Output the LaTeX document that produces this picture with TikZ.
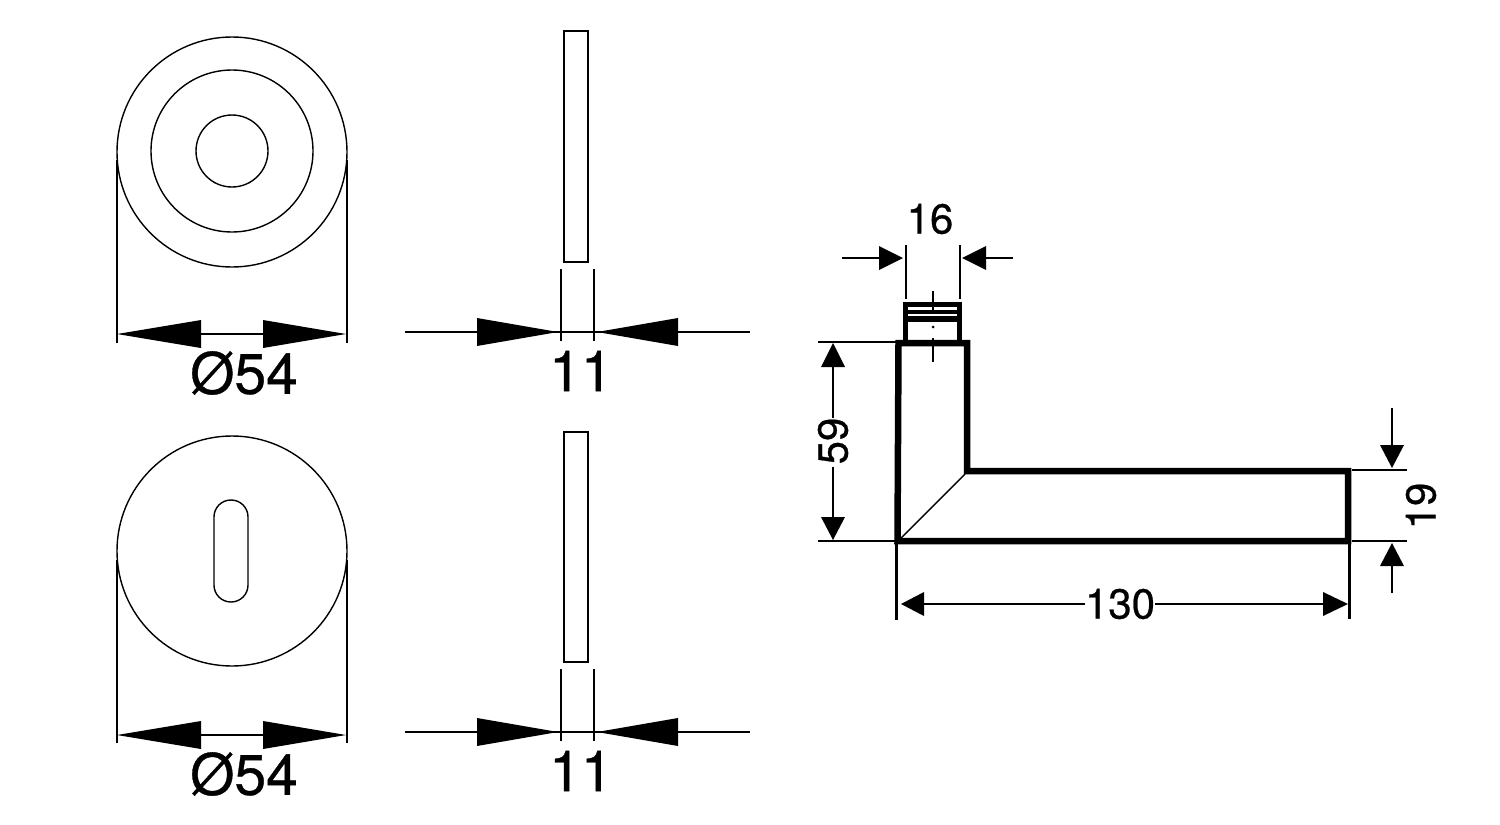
\documentclass[tikz,border=0pt]{standalone}
\usepackage{fontspec}
\setmainfont[FakeBold=0.6]{TeX Gyre Heros}
\newcommand{\arrowhead}[5]{\fill (#1,#2) -- (#3,#4+#5) -- (#3,#4-#5) -- cycle;}
\newcommand{\arrowup}[4]{\fill (#1,#2) -- (#1+#4,#3) -- (#1-#4,#3) -- cycle;}
\tikzset{
  thinline/.style={line width=1.4pt,black},
  midline/.style={line width=2.5pt,black},
  thickline/.style={line width=6.5pt,black,line join=miter},
  bigtext/.style={font=\fontsize{57}{57}\selectfont,inner sep=0pt},
  smalltext/.style={font=\fontsize{42}{42}\selectfont,inner sep=0pt}
}
\begin{document}
\begin{tikzpicture}[x=1pt,y=-1pt]
\useasboundingbox (0,0) rectangle (1500,825);
% top rose
\draw[thinline] (232,152) circle[radius=115];
\draw[thinline] (232,151) circle[radius=81];
\draw[thinline] (232,151) circle[radius=36];
\draw[thinline] (117,160) -- (117,343);
\draw[thinline] (347,160) -- (347,343);
\draw[thinline] (201,334) -- (263,334);
\arrowhead{117}{334}{201}{334}{14}
\arrowhead{346}{334}{263}{334}{14}
\node[bigtext] (d1) at (244,373) {Ø54};
% bottom rose
\draw[thinline] (232,551) circle[radius=115];
\draw[thinline,rounded corners=16.9pt] (214,500) rectangle (248,602);
\draw[thinline] (117,560) -- (117,743);
\draw[thinline] (347,560) -- (347,743);
\draw[thinline] (201,735) -- (263,735);
\arrowhead{117}{735}{201}{735}{14}
\arrowhead{346}{735}{263}{735}{14}
\node[bigtext] (d2) at (244,774) {Ø54};
% top side view
\draw[thinline,line width=1.6pt] (564,31) rectangle (588,262);
\draw[thinline] (561,269) -- (561,341);
\draw[thinline] (594,269) -- (594,341);
\draw[thinline] (405,332) -- (750,332);
\arrowhead{558}{332}{477}{332}{14}
\arrowhead{597}{332}{678}{332}{14}
\node[bigtext] (w1) at (581,371) {11};
% bottom side view
\draw[thinline,line width=1.6pt] (564,432) rectangle (588,662);
\draw[thinline] (561,669) -- (561,741);
\draw[thinline] (594,669) -- (594,741);
\draw[thinline] (405,732) -- (750,732);
\arrowhead{558}{732}{477}{732}{14}
\arrowhead{597}{732}{678}{732}{14}
\node[bigtext] (w2) at (581,771) {11};
% lever handle
\draw[thickline] (898.5,343) -- (967,343) -- (967,471) -- (1348,471) -- (1348,541) -- (897.5,541) -- cycle;
\draw[thinline] (899,540) -- (965,474);
% spindle
\fill (903,302) rectangle (962,307);
\fill (903,309.5) rectangle (962,314);
\fill (903,316) rectangle (962,322);
\fill (903,302) rectangle (908,343);
\fill (957,302) rectangle (962,343);
\draw[midline] (933,291) -- (933,310);
\fill (933,327) circle[radius=1.5];
\draw[midline] (933,338) -- (933,362);
% dimension 16
\draw[midline] (906,245) -- (906,299);
\draw[midline] (960,245) -- (960,299);
\draw[midline] (842,258) -- (879,258);
\draw[midline] (986,258) -- (1013,258);
\arrowhead{903}{258}{879}{258}{12}
\arrowhead{962}{258}{986}{258}{12}
\node[smalltext] (n16) at (930,219) {16};
% dimension 59
\draw[midline] (818,342) -- (898,342);
\draw[midline] (818,541) -- (898,541);
\draw[midline] (833,367) -- (833,418);
\draw[midline] (833,467) -- (833,517);
\arrowup{833}{343}{367}{12}
\arrowup{833}{540}{517}{12}
\node[smalltext,rotate=90] (n59) at (833,441) {59};
% dimension 19
\draw[midline] (1352,470) -- (1407,470);
\draw[midline] (1352,541) -- (1407,541);
\draw[midline] (1392,408) -- (1392,445);
\draw[midline] (1392,566) -- (1392,593);
\arrowup{1392}{468}{445}{12}
\arrowup{1392}{543}{566}{12}
\node[smalltext,rotate=90] (n19) at (1421,506) {19};
% dimension 130
\draw[line width=3pt] (896.5,541) -- (896.5,620);
\draw[line width=2.5pt] (1349.5,541) -- (1349.5,619);
\draw[midline] (924,604) -- (1085,604);
\draw[midline] (1155,604) -- (1323,604);
\arrowhead{901}{604}{924}{604}{12}
\arrowhead{1348}{604}{1323}{604}{12}
\node[smalltext] (n130) at (1120,604) {130};
\end{tikzpicture}
\end{document}
